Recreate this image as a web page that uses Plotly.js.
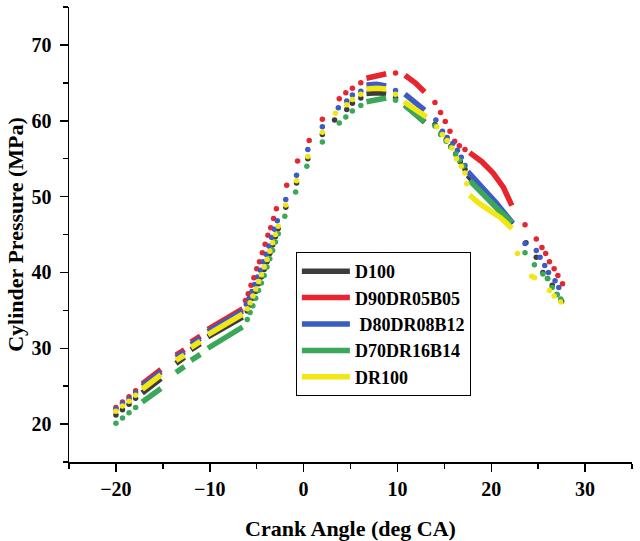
<!DOCTYPE html>
<html>
<head>
<meta charset="utf-8">
<script src="https://cdn.plot.ly/plotly-3.0.1.min.js"></script>
<style>html,body{margin:0;padding:0;background:#fff;}#chart{width:640px;height:541px;}</style>
</head>
<body>
<div id="chart"></div>
<script>
// Series names and colours
const seriesNames = ["D100", "D90DR05B05", "\u00a0D80DR08B12", "D70DR16B14", "DR100"];
const seriesColors = ["#3c3c3c", "#e8252e", "#3b5cc4", "#3aa858", "#f2e614"];

// Dense (closely sampled) stretches, segments separated by null
const D100_lineX = [-17.2,-16.2,-15.2,null,-13.6,-12.7,null,-12.0,-11.0,null,-10.2,-8.3,-6.5,null,6.7,7.8,8.8,null,10.8,11.9,12.9,null,17.5,19.0,20.5,22.2];
const D100_lineY = [24.1,25.0,26.0,null,28.0,28.8,null,29.8,30.6,null,31.5,32.9,34.1,null,63.6,63.7,63.6,null,62.1,61.0,59.8,null,52.8,50.8,48.6,46.3];
const D90_lineX = [-17.2,-16.2,-15.2,null,-13.6,-12.7,null,-12.0,-11.0,null,-10.2,-8.3,-6.5,null,6.7,7.8,8.8,null,10.8,11.9,12.9,null,17.7,19.0,20.2,21.3,22.2];
const D90_lineY = [25.3,26.2,27.2,null,29.1,29.8,null,30.8,31.6,null,32.5,33.9,35.2,null,65.6,65.9,66.2,null,66.0,65.0,63.8,null,55.8,54.6,53.1,51.2,48.8];
const D80_lineX = [-17.2,-16.2,-15.2,null,-13.6,-12.7,null,-12.0,-11.0,null,-10.2,-8.3,-6.5,null,6.7,7.8,8.8,null,10.8,11.9,12.9,null,17.5,19.0,20.5,22.3];
const D80_lineY = [25.0,25.9,26.9,null,28.8,29.5,null,30.5,31.3,null,32.2,33.6,34.9,null,64.7,64.8,64.6,null,63.5,62.5,61.4,null,53.3,51.3,49.2,46.5];
const D70_lineX = [-17.2,-16.2,-15.2,null,-13.6,-12.7,null,-12.0,-11.0,null,-10.2,-8.3,-6.5,null,6.7,7.8,8.8,null,10.8,11.9,12.9,null,17.7,19.0,20.5,22.2];
const D70_lineY = [22.9,23.8,24.7,null,26.8,27.6,null,28.4,29.2,null,30.0,31.4,32.8,null,62.5,62.8,63.0,null,62.0,61.0,59.9,null,52.1,50.4,48.6,46.6];
const DR100_lineX = [-17.2,-16.2,-15.2,null,-13.6,-12.7,null,-12.0,-11.0,null,-10.2,-8.3,-6.5,null,6.7,7.8,8.8,null,10.7,11.9,13.1,null,17.7,18.6,19.8,21.0,22.2];
const DR100_lineY = [24.6,25.5,26.5,null,28.4,29.1,null,30.1,30.9,null,31.8,33.2,34.5,null,64.2,64.3,64.2,null,62.5,61.5,60.5,null,50.2,49.2,48.2,47.2,45.8];

// Sparse samples (drawn as dots)
const D100_dotX = [-20,-19.3,-18.6,-17.9,-6.0,-5.7,-5.4,-5.1,-4.8,-4.5,-4.2,-3.9,-3.6,-3.3,-3.0,-2.7,-1.9,-0.75,0.45,2.0,3.3,4.6,5.2,6.1,9.8,14.0,14.7,15.2,15.7,16.2,16.7,17.2,23.7,24.8,25.5,26.0,26.5,27.0,27.5];
const D100_dotY = [21.2,21.9,22.6,23.4,34.9,35.7,36.6,37.5,38.5,39.4,40.4,41.4,42.5,43.6,44.7,45.8,48.6,51.8,55.0,58.2,60.1,61.5,62.3,63.0,63.0,59.5,58.4,57.5,56.6,55.6,54.6,53.6,43.9,42.0,40.0,39.2,38.3,37.1,36.2];
const D90_dotX = [-20,-19.3,-18.6,-17.9,-6.2,-5.9,-5.6,-5.3,-5.0,-4.7,-4.4,-4.1,-3.8,-3.5,-3.2,-2.9,-1.8,-0.64,0.6,2.0,3.8,4.5,5.2,6.1,9.8,14.0,14.6,15.1,15.6,16.1,16.6,17.2,23.6,24.8,25.4,25.8,26.2,26.7,27.1,27.6];
const D90_dotY = [22.2,22.9,23.6,24.4,36.3,37.2,38.3,39.3,40.5,41.4,42.6,43.7,44.9,45.9,47.1,48.4,51.5,54.7,57.4,60.2,62.9,63.7,64.3,65.0,66.3,62.4,61.1,59.9,58.6,57.3,56.7,56.2,46.3,44.4,43.3,42.5,41.4,40.5,39.6,38.5];
const D80_dotX = [-20,-19.3,-18.6,-17.9,-6.1,-5.8,-5.5,-5.2,-4.9,-4.6,-4.3,-4.0,-3.7,-3.4,-3.1,-2.8,-1.9,-0.75,0.45,2.0,3.7,4.6,5.2,6.1,9.8,14.1,14.8,15.3,15.9,16.4,16.8,17.2,23.6,24.8,25.2,25.7,26.1,26.8,27.2];
const D80_dotY = [22.0,22.7,23.3,24.1,35.8,36.6,37.5,38.4,39.4,40.3,41.4,42.4,43.5,44.6,45.7,46.8,49.6,52.8,56.2,59.2,61.7,62.6,63.4,63.9,64.0,60.1,58.6,57.8,57.0,56.1,55.2,54.1,43.8,42.9,42.0,40.9,40.0,38.9,38.0];
const D70_dotX = [-20,-19.3,-18.6,-17.9,-6.0,-5.7,-5.4,-5.1,-4.8,-4.5,-4.2,-3.9,-3.6,-3.3,-3.0,-2.7,-2.0,-0.85,0.35,2.0,3.8,4.5,5.2,6.1,9.8,14.0,14.6,15.2,15.7,16.2,16.6,17.0,23.6,24.6,25.5,26.0,26.5,27.0,27.4];
const D70_dotY = [20.1,20.8,21.5,22.2,33.8,34.7,35.6,36.6,37.6,38.6,39.6,40.7,41.8,42.9,44.0,45.1,47.4,50.6,54.0,57.2,59.7,60.5,61.3,62.0,62.7,59.3,58.2,57.3,56.5,55.6,54.8,54.0,42.6,41.0,39.8,39.2,38.0,37.1,36.5];
const DR100_dotX = [-20,-19.3,-18.6,-17.9,-6.0,-5.7,-5.4,-5.1,-4.8,-4.5,-4.2,-3.9,-3.6,-3.3,-3.0,-2.7,-1.9,-0.75,0.45,2.0,3.4,4.6,5.2,6.1,9.8,14.2,14.8,15.3,15.8,16.3,16.8,17.2,17.4,22.8,24.3,24.6,26.2,26.7,27.4];
const DR100_dotY = [21.7,22.4,23.0,23.8,35.2,36.0,36.9,37.8,38.8,39.7,40.7,41.7,42.8,43.9,45.0,46.1,48.9,52.1,55.3,58.5,61.0,62.1,62.8,63.5,63.5,59.2,58.2,57.4,56.4,55.0,54.0,53.1,51.7,42.5,39.5,39.3,37.6,36.9,36.1];

// Axis ticks
const xTickVals = [-20,-10,0,10,20,30];
const xTickText = ["\u221220","\u221210","0","10","20","30"];
const yTickVals = [20,30,40,50,60,70];
const yTickText = ["20","30","40","50","60","70"];

const lineXs = [D100_lineX, D90_lineX, D80_lineX, D70_lineX, DR100_lineX];
const lineYs = [D100_lineY, D90_lineY, D80_lineY, D70_lineY, DR100_lineY];
const dotXs = [D100_dotX, D90_dotX, D80_dotX, D70_dotX, DR100_dotX];
const dotYs = [D100_dotY, D90_dotY, D80_dotY, D70_dotY, DR100_dotY];

const traces = [];
for (let i = 0; i < seriesNames.length; i++) {
  traces.push({
    x: dotXs[i], y: dotYs[i], type: "scatter", mode: "markers",
    marker: {color: seriesColors[i], size: 5.5, line: {width: 0}},
    showlegend: false, hoverinfo: "skip", legendgroup: "g" + i
  });
  traces.push({
    x: lineXs[i], y: lineYs[i], type: "scatter", mode: "lines",
    line: {color: seriesColors[i], width: 5.5}, connectgaps: false,
    name: seriesNames[i], legendgroup: "g" + i
  });
}

const serif = "Liberation Serif, Times New Roman, serif";
const layout = {
  width: 640, height: 541,
  margin: {l: 69, r: 8, t: 7, b: 79, pad: 0},
  paper_bgcolor: "#fff", plot_bgcolor: "#fff",
  font: {family: serif, color: "#000", size: 20, weight: "bold"},
  showlegend: true,
  legend: {
    x: 0.403, y: 0.4615, xanchor: "left", yanchor: "top",
    bordercolor: "#000", borderwidth: 1, bgcolor: "rgba(255,255,255,0)",
    font: {family: serif, size: 18, color: "#000", weight: "bold"},
    itemwidth: 48, tracegroupgap: 0, traceorder: "normal"
  },
  xaxis: {
    range: [-25, 35], tickmode: "array", tickvals: xTickVals, ticktext: xTickText,
    ticks: "outside", ticklen: 8, tickwidth: 1.5, tickcolor: "#000",
    minor: {dtick: 5, ticks: "outside", ticklen: 5, tickwidth: 1.5, tickcolor: "#000"},
    showline: true, linecolor: "#000", linewidth: 1.5, showgrid: false, zeroline: false,
    tickfont: {family: serif, size: 20, color: "#000", weight: "bold"},
    ticklabelstandoff: 0,
    title: {text: "Crank Angle (deg CA)", font: {family: serif, size: 22, color: "#000", weight: "bold"}, standoff: 22},
    automargin: false
  },
  yaxis: {
    range: [15, 75], tickmode: "array", tickvals: yTickVals, ticktext: yTickText,
    ticks: "outside", ticklen: 8, tickwidth: 1.5, tickcolor: "#000",
    minor: {dtick: 5, ticks: "outside", ticklen: 5, tickwidth: 1.5, tickcolor: "#000"},
    showline: true, linecolor: "#000", linewidth: 1.5, showgrid: false, zeroline: false,
    tickfont: {family: serif, size: 20, color: "#000", weight: "bold"},
    ticklabelstandoff: 4,
    title: {text: "Cylinder Pressure (MPa)", font: {family: serif, size: 22, color: "#000", weight: "bold"}, standoff: 2},
    automargin: false
  }
};

Plotly.newPlot("chart", traces, layout, {staticPlot: true, displayModeBar: false});
</script>
</body>
</html>
